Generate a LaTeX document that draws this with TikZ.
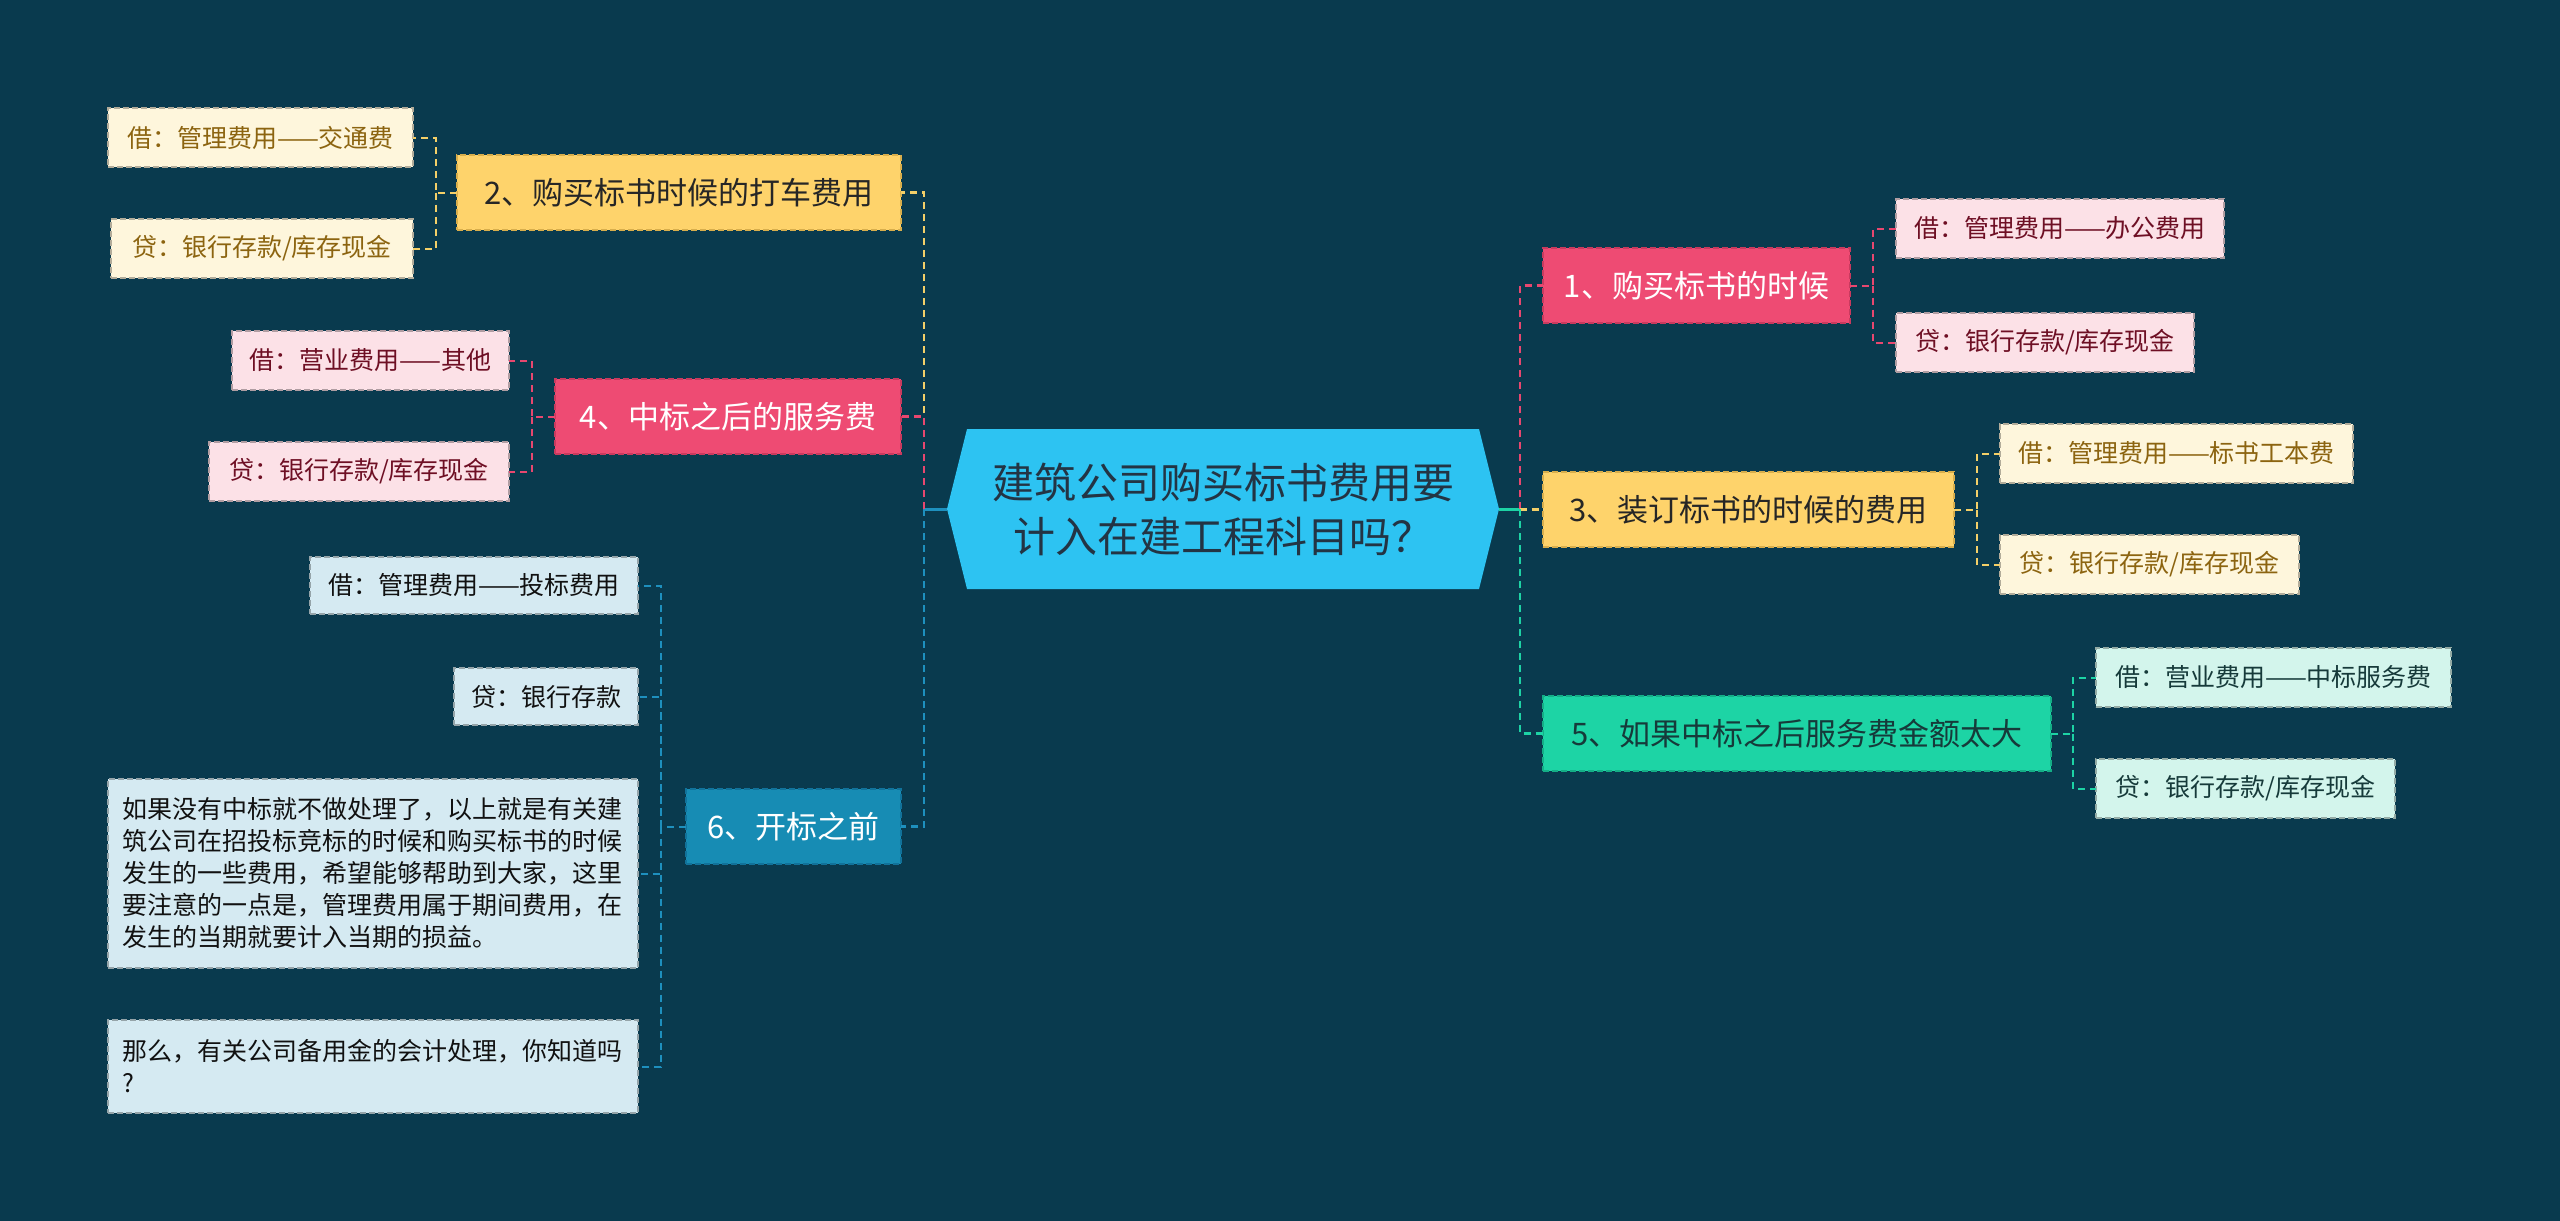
\documentclass[tikz,border=0pt]{standalone}
\usepackage{fontspec}
\setmainfont{Noto Sans CJK SC}
\usetikzlibrary{backgrounds}
\definecolor{bg}{HTML}{093A4E}
\definecolor{cfill}{HTML}{2DC3F2}
\definecolor{ctext}{HTML}{233444}
\definecolor{pinkF}{HTML}{EE4B73}
\definecolor{pinkD}{HTML}{C93A5E}
\definecolor{yelF}{HTML}{FED36B}
\definecolor{yelD}{HTML}{D8AE4C}
\definecolor{grnF}{HTML}{1DD4A5}
\definecolor{grnD}{HTML}{14AE86}
\definecolor{bluF}{HTML}{178CB4}
\definecolor{bluD}{HTML}{11729A}
\definecolor{lpinkF}{HTML}{FCE1E7}
\definecolor{lpinkT}{HTML}{6E0F24}
\definecolor{lyelF}{HTML}{FEF6DC}
\definecolor{lyelT}{HTML}{8C6410}
\definecolor{lgrnF}{HTML}{D3F5EC}
\definecolor{lgrnT}{HTML}{163A3A}
\definecolor{lbluF}{HTML}{D5EAF2}
\definecolor{lbluT}{HTML}{111111}
\definecolor{pinkL}{HTML}{E8476F}
\definecolor{yelL}{HTML}{F3CF68}
\definecolor{grnL}{HTML}{1DD3A5}
\definecolor{bluL}{HTML}{1E90BE}
\begin{document}
\begin{tikzpicture}[x=1pt,y=-1pt,
  base/.style={inner sep=0pt, outer sep=0pt, dash pattern=on 6pt off 3pt, line width=1.5pt, anchor=center},
  mainbox/.style={base, minimum height=75pt, font=\fontsize{31}{38}\selectfont},
  leafbox/.style={base, minimum height=59pt, font=\fontsize{25}{32}\selectfont},
  pinkmain/.style={mainbox, fill=pinkF, draw=pinkD, text=white},
  yelmain/.style={mainbox, fill=yelF, draw=yelD, text=black!85},
  grnmain/.style={mainbox, fill=grnF, draw=grnD, text=lgrnT},
  blumain/.style={mainbox, fill=bluF, draw=bluD, text=white},
  pinkleaf/.style={leafbox, fill=lpinkF, draw=lpinkF!70!black, text=lpinkT},
  yelleaf/.style={leafbox, fill=lyelF, draw=lyelF!70!black, text=lyelT},
  grnleaf/.style={leafbox, fill=lgrnF, draw=lgrnF!70!black, text=lgrnT},
  bluleaf/.style={leafbox, fill=lbluF, draw=lbluF!70!black, text=lbluT},
  trunk/.style={line width=3pt},
  branch/.style={line width=2.5pt, dash pattern=on 7pt off 5pt},
  twig/.style={line width=2pt, dash pattern=on 7pt off 5pt}
]
\useasboundingbox (0,0) rectangle (2560,1221);

% center
\node[inner sep=0pt, outer sep=0pt, minimum width=552pt, minimum height=160pt, align=center, text=ctext,
  font=\fontsize{42}{54}\selectfont] (c) at (1223,509) {建筑公司购买标书费用要\\计入在建工程科目吗？};
\begin{pgfonlayer}{background}
\fill[bg] (0,0) rectangle (2560,1221);
\fill[cfill] (c.west) -- ([xshift=20pt]c.north west) -- ([xshift=-20pt]c.north east) -- (c.east)
  -- ([xshift=-20pt]c.south east) -- ([xshift=20pt]c.south west) -- cycle;
\end{pgfonlayer}

% main nodes right
\node[pinkmain, minimum width=307pt] (n1) at (1696.5,285.5) {1、购买标书的时候};
\node[yelmain, minimum width=411pt] (n3) at (1748.5,509.5) {3、装订标书的时候的费用};
\node[grnmain, minimum width=508pt] (n5) at (1797,733.5) {5、如果中标之后服务费金额太大};
% main nodes left
\node[yelmain, minimum width=444pt] (n2) at (679,192.5) {2、购买标书时候的打车费用};
\node[pinkmain, minimum width=346pt] (n4) at (728,416.5) {4、中标之后的服务费};
\node[blumain, minimum width=215pt] (n6) at (793.5,826.5) {6、开标之前};

% leaves right
\node[pinkleaf, minimum width=328pt] (l1a) at (2060,228.5) {借：管理费用——办公费用};
\node[pinkleaf, minimum width=298pt] (l1b) at (2045,342.5) {贷：银行存款/库存现金};
\node[yelleaf, minimum width=353pt] (l3a) at (2176.5,453.5) {借：管理费用——标书工本费};
\node[yelleaf, minimum width=299pt] (l3b) at (2149.5,564.5) {贷：银行存款/库存现金};
\node[grnleaf, minimum width=355pt] (l5a) at (2273.5,677.5) {借：营业费用——中标服务费};
\node[grnleaf, minimum width=299pt] (l5b) at (2245.5,788.5) {贷：银行存款/库存现金};
% leaves left
\node[yelleaf, minimum width=305pt] (l2a) at (260.5,137.5) {借：管理费用——交通费};
\node[yelleaf, minimum width=302pt] (l2b) at (262,248.5) {贷：银行存款/库存现金};
\node[pinkleaf, minimum width=277pt] (l4a) at (370.5,360.5) {借：营业费用——其他};
\node[pinkleaf, minimum width=300pt] (l4b) at (359,471.5) {贷：银行存款/库存现金};
\node[bluleaf, minimum width=328pt, minimum height=57pt] (l6a) at (474,585.5) {借：管理费用——投标费用};
\node[bluleaf, minimum width=184pt, minimum height=57pt] (l6b) at (546,696.5) {贷：银行存款};
\node[bluleaf, minimum width=530pt, minimum height=189pt, text width=502pt, align=left] (l6c) at (373,873.5)
  {如果没有中标就不做处理了，以上就是有关建\\筑公司在招投标竞标的时候和购买标书的时候\\发生的一些费用，希望能够帮助到大家，这里\\要注意的一点是，管理费用属于期间费用，在\\发生的当期就要计入当期的损益。};
\node[bluleaf, minimum width=530pt, minimum height=93pt, text width=502pt, align=left] (l6d) at (373,1066.5)
  {那么，有关公司备用金的会计处理，你知道吗\\?};

% junctions
\coordinate (jl) at (924,509);
\coordinate (jr) at (1520,509);
\coordinate (j1) at (1873,285.5);
\coordinate (j3) at (1977,509.5);
\coordinate (j5) at (2073,733.5);
\coordinate (j2) at (436,192.5);
\coordinate (j4) at (532,416.5);
\coordinate (j6) at (661,826.5);

% trunk
\draw[trunk, bluL] (c.west) -- (jl);
\draw[trunk, grnL] (c.east) -- (jr);
\draw[branch, yelL] (jl) |- (n2.east);
\draw[branch, pinkL] (jl) |- (n4.east);
\draw[branch, bluL] (jl) |- (n6.east);
\draw[branch, pinkL] (jr) |- (n1.west);
\draw[branch, yelL] (jr) |- (n3.west);
\draw[branch, grnL] (jr) |- (n5.west);

% twigs
\draw[twig, pinkL] (n1.east) -- (j1) |- (l1a.west);
\draw[twig, pinkL] (j1) |- (l1b.west);
\draw[twig, yelL] (n3.east) -- (j3) |- (l3a.west);
\draw[twig, yelL] (j3) |- (l3b.west);
\draw[twig, grnL] (n5.east) -- (j5) |- (l5a.west);
\draw[twig, grnL] (j5) |- (l5b.west);
\draw[twig, yelL] (n2.west) -- (j2) |- (l2a.east);
\draw[twig, yelL] (j2) |- (l2b.east);
\draw[twig, pinkL] (n4.west) -- (j4) |- (l4a.east);
\draw[twig, pinkL] (j4) |- (l4b.east);
\draw[twig, bluL] (n6.west) -- (j6) |- (l6a.east);
\draw[twig, bluL] (j6) |- (l6b.east);
\draw[twig, bluL] (j6) |- (l6c.east);
\draw[twig, bluL] (j6) |- (l6d.east);
\end{tikzpicture}
\end{document}
